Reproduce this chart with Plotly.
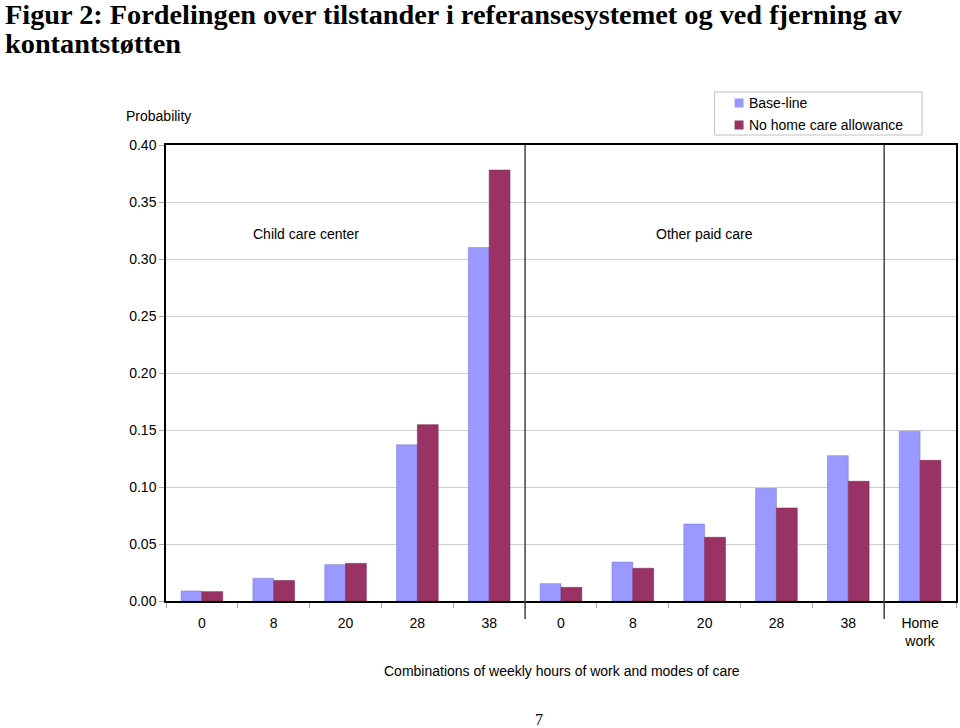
import plotly.graph_objects as go

categories = ["0", "8", "20", "28", "38", "0", "8", "20", "28", "38", "Home<br>work"]
baseline = [0.0088, 0.0199, 0.0319, 0.137, 0.310, 0.0152, 0.0342, 0.0675, 0.0988, 0.1275, 0.149]
no_allowance = [0.0082, 0.018, 0.033, 0.1547, 0.378, 0.012, 0.0287, 0.0559, 0.0816, 0.105, 0.1234]
series_names = ["Base-line", "No home care allowance"]
series_colors = ["#9999FF", "#993366"]
group_labels = ["Child care center", "Other paid care"]
separators = [4.5, 9.5]
y_ticks = [0.0, 0.05, 0.10, 0.15, 0.20, 0.25, 0.30, 0.35, 0.40]
title_lines = ["Figur 2: Fordelingen over tilstander i referansesystemet og ved fjerning av",
               "kontantstøtten"]

x = list(range(len(categories)))
SANS = "Liberation Sans, Arial, sans-serif"
SERIF = "Liberation Serif, Times New Roman, serif"

W, H = 960, 728
L, R, T, B = 166, 2, 145, 127
pw = W - L - R
ph = H - T - B


def px(xp):
    return (xp - L) / pw


def py(yp):
    return (H - B - yp) / ph


fig = go.Figure()
fig.add_trace(go.Bar(x=x, y=baseline, name=series_names[0],
                     marker=dict(color=series_colors[0], line=dict(color="#7777cc", width=0.5))))
fig.add_trace(go.Bar(x=x, y=no_allowance, name=series_names[1],
                     marker=dict(color=series_colors[1], line=dict(color="#772244", width=0.5))))

fig.update_layout(
    width=W, height=H,
    margin=dict(l=L, r=R, t=T, b=B),
    paper_bgcolor="white", plot_bgcolor="white",
    barmode="group", bargap=0.42, bargroupgap=0,
    font=dict(family=SANS, size=14, color="black"),
    showlegend=False,
)

fig.update_xaxes(
    tickmode="array", tickvals=x, ticktext=categories,
    range=[-0.5, len(categories) - 0.5],
    showline=True, linecolor="black", linewidth=1.5, mirror=True,
    ticks="", showgrid=False, zeroline=False, ticklabelstandoff=8,
    tickfont=dict(family=SANS, size=14),
    minor=dict(tickmode="linear", tick0=-0.5, dtick=1, ticks="outside", ticklen=5,
               tickcolor="#aaaaaa", tickwidth=1, showgrid=False),
)
fig.update_yaxes(
    range=[0, 0.40], tickmode="array", tickvals=y_ticks,
    ticktext=[f"{v:.2f}" for v in y_ticks],
    showline=True, linecolor="black", linewidth=1.5, mirror=True,
    ticks="outside", ticklen=5, tickcolor="#aaaaaa", ticklabelstandoff=0,
    showgrid=True, gridcolor="#d0d0d0", gridwidth=1, zeroline=False,
    tickfont=dict(family=SANS, size=14),
)

for s in separators:
    fig.add_shape(type="line", xref="x", yref="paper", x0=s, x1=s,
                  y0=py(619), y1=1, line=dict(color="#444444", width=1.5))


def text(xp, yp, t, font, xanchor="center"):
    fig.add_annotation(x=px(xp), y=py(yp), xref="paper", yref="paper", text=t,
                       showarrow=False, xanchor=xanchor, yanchor="middle", font=font)


f14 = dict(family=SANS, size=14, color="black")
text(306, 234, group_labels[0], f14)
text(706, 234, group_labels[1], f14)
text(158, 116, "Probability", f14)
text(563, 671, "Combinations of weekly hours of work and modes of care", f14)
text(540, 720, "7", dict(family=SERIF, size=16, color="black"))

tfont = dict(family=SERIF, size=28.3, color="black", weight="bold")
text(3, 14, title_lines[0], tfont, xanchor="left")
text(3, 44, title_lines[1], tfont, xanchor="left")

# legend box
fig.add_shape(type="rect", xref="paper", yref="paper", x0=px(716), x1=px(924),
              y0=py(135), y1=py(92), line=dict(color="#c0c0c0", width=1), fillcolor="white")
for i, (nm, col) in enumerate(zip(series_names, series_colors)):
    yc = 103 + 22 * i
    fig.add_shape(type="rect", xref="paper", yref="paper", x0=px(736), x1=px(745),
                  y0=py(yc + 4.5), y1=py(yc - 4.5), line=dict(color=col, width=0), fillcolor=col)
    text(748, yc, nm, f14, xanchor="left")

fig.write_html("out.html", config={"displayModeBar": False},
               post_script="document.body.style.margin='0';document.body.style.overflow='hidden';")
